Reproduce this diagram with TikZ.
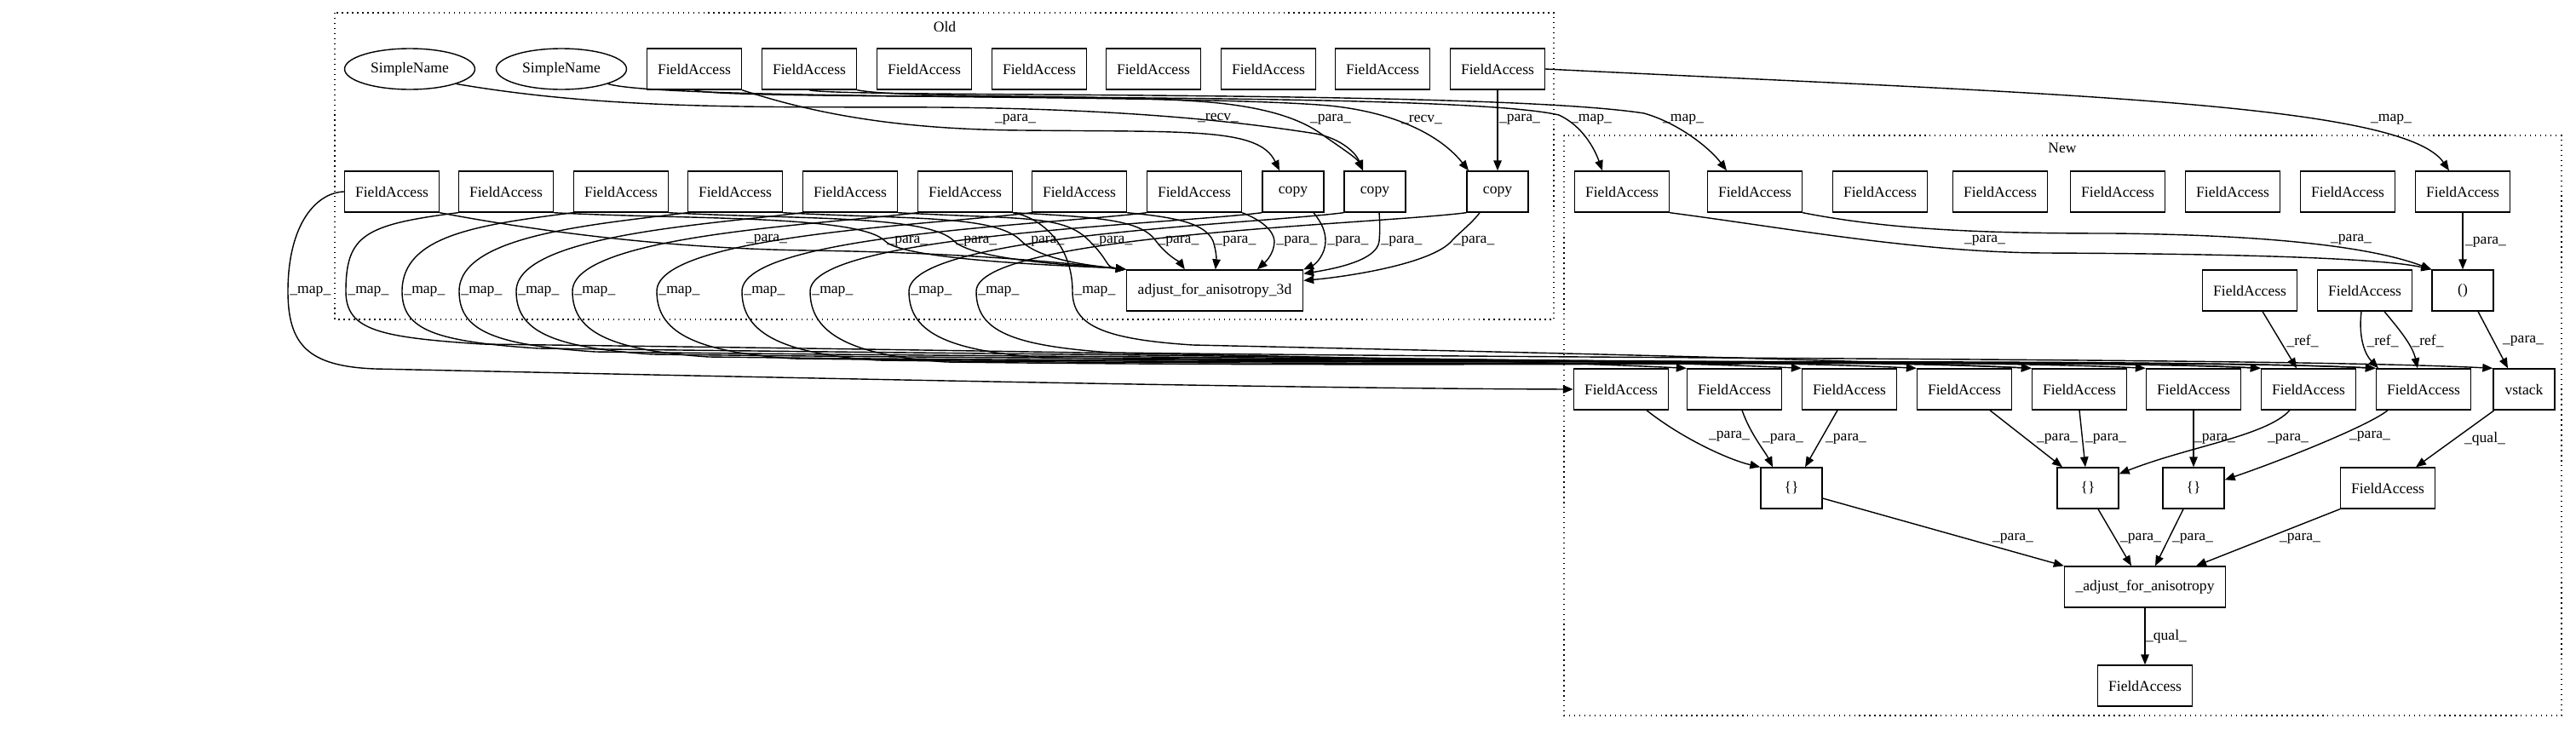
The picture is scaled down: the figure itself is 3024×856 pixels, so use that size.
\documentclass[tikz,border=0pt]{standalone}
\usepackage{fontspec}
\setmainfont{Liberation Serif}
\usetikzlibrary{arrows.meta,shapes.geometric,calc}

\begin{document}
\begin{tikzpicture}[x=0.02cm,y=-0.02cm,
    box/.style={draw,line width=0.8pt,minimum width=2.22cm,minimum height=0.96cm,inner sep=0pt,font=\fontsize{10}{12}\selectfont},
    sbox/.style={box,minimum width=1.44cm},
    oval/.style={box,ellipse,minimum width=3.06cm},
    elab/.style={inner sep=1pt,font=\fontsize{10}{12}\selectfont},
    conn/.style={-{Triangle[length=0.24cm,width=0.19cm]},line width=0.8pt},
    cluster/.style={line width=0.8pt,dash pattern=on 0.8pt off 2.6pt}]
\useasboundingbox (0,0) rectangle (3024,856);

% clusters
\draw[cluster] (393,15) rectangle (1824,375);
\draw[cluster] (1836,159) rectangle (3007,840);
\node[elab] (oldlbl) at (1109,31) {Old};
\node[elab] (newlbl) at (2421,174) {New};

% old, top row
\node[oval] (sn1) at (481,81) {SimpleName};
\node[oval] (sn2) at (659,81) {SimpleName};
\node[box] (oa1) at (815,81) {FieldAccess};
\node[box] (oa2) at (950,81) {FieldAccess};
\node[box] (oa3) at (1085,81) {FieldAccess};
\node[box] (oa4) at (1220,81) {FieldAccess};
\node[box] (oa5) at (1354,81) {FieldAccess};
\node[box] (oa6) at (1489,81) {FieldAccess};
\node[box] (oa7) at (1623,81) {FieldAccess};
\node[box] (oa8) at (1758,81) {FieldAccess};

% old, second row
\node[box] (ob1) at (460,225) {FieldAccess};
\node[box] (ob2) at (594,225) {FieldAccess};
\node[box] (ob3) at (729,225) {FieldAccess};
\node[box] (ob4) at (863,225) {FieldAccess};
\node[box] (ob5) at (998,225) {FieldAccess};
\node[box] (ob6) at (1133,225) {FieldAccess};
\node[box] (ob7) at (1267,225) {FieldAccess};
\node[box] (ob8) at (1402,225) {FieldAccess};
\node[sbox] (cp1) at (1518,225) {copy};
\node[sbox] (cp2) at (1614,225) {copy};
\node[sbox] (cp3) at (1758,225) {copy};
\node[box,minimum width=4.14cm] (adjold) at (1426,341) {adjust\_for\_anisotropy\_3d};

% new
\node[box] (na1) at (1904,225) {FieldAccess};
\node[box] (na2) at (2060,225) {FieldAccess};
\node[box] (na3) at (2207,225) {FieldAccess};
\node[box] (na4) at (2348,225) {FieldAccess};
\node[box] (na5) at (2486,225) {FieldAccess};
\node[box] (na6) at (2621,225) {FieldAccess};
\node[box] (na7) at (2756,225) {FieldAccess};
\node[box] (na8) at (2891,225) {FieldAccess};
\node[box] (nb1) at (2641,341) {FieldAccess};
\node[box] (nb2) at (2776,341) {FieldAccess};
\node[sbox] (tup) at (2891,341) {()};
\node[box] (nc1) at (1903,457) {FieldAccess};
\node[box] (nc2) at (2036,457) {FieldAccess};
\node[box] (nc3) at (2171,457) {FieldAccess};
\node[box] (nc4) at (2306,457) {FieldAccess};
\node[box] (nc5) at (2441,457) {FieldAccess};
\node[box] (nc6) at (2575,457) {FieldAccess};
\node[box] (nc7) at (2710,457) {FieldAccess};
\node[box] (nc8) at (2845,457) {FieldAccess};
\node[sbox] (vst) at (2963,457) {vstack};
\node[sbox] (br1) at (2103,573) {\{\}};
\node[sbox] (br2) at (2451,573) {\{\}};
\node[sbox] (br3) at (2575,573) {\{\}};
\node[box] (nd) at (2803,573) {FieldAccess};
\node[box,minimum width=3.78cm] (adjnew) at (2518,689) {\_adjust\_for\_anisotropy};
\node[box] (nf) at (2518,805) {FieldAccess};

% old top row to copies and new
\draw[conn] (oa1.south east) .. controls (960,135) and (1060,152) .. (1200,153) .. controls (1400,155) and (1478,150) .. ([xshift=-0.32cm]cp1.north) node[elab] at (1192,140) {\_para\_};
\draw[conn] (oa1.south) .. controls (850,120) and (1700,105) .. (1830,135) .. controls (1858,148) and (1872,175) .. ([xshift=-0.46cm]na1.north) node[elab] at (1868,140) {\_map\_};
\draw[conn] (oa2.south) .. controls (980,115) and (1750,105) .. (1930,133) .. controls (1972,145) and (2008,175) .. ([xshift=-0.66cm]na2.north) node[elab] at (1976,140) {\_map\_};
\draw[conn] (sn1.south east) .. controls (720,130) and (900,125) .. (1100,126) .. controls (1350,128) and (1480,147) .. (1545,157) .. controls (1575,163) and (1592,180) .. ([xshift=-0.28cm]cp2.north) node[elab] at (1430,138) {\_recv\_};
\draw[conn] (oa2.south east) .. controls (1060,116) and (1300,110) .. (1420,120) .. controls (1500,127) and (1535,145) .. (1555,160) .. controls (1578,176) and (1593,186) .. ([xshift=-0.28cm]cp2.north) node[elab] at (1562,140) {\_para\_};
\draw[conn] (sn2.south east) .. controls (780,118) and (1400,110) .. (1560,124) .. controls (1640,132) and (1692,160) .. ([xshift=-0.68cm]cp3.north) node[elab] at (1669,140) {\_recv\_};
\draw[conn] (oa8) -- (cp3) node[elab] at (1784,140) {\_para\_};
\draw[conn] (oa8.east) .. controls (2400,110) and (2820,120) .. ([xshift=-0.32cm]na8.north) node[elab] at (2807,140) {\_map\_};

% old second row to adjust_for_anisotropy_3d
\draw[conn] (ob1.south east) .. controls (650,275) and (800,292) .. (950,294) .. controls (1150,297) and (1260,310) .. (adjold.north west) node[elab] at (900,281) {\_para\_};
\foreach \s/\p in {ob2/1039,ob3/1120,ob4/1199,ob5/1279}
  \draw[conn] (\s.south east) .. controls ($(\s.south east)+(150,8)$) and (\p-30,252) .. (\p,283) node[elab,right] {\_para\_} .. controls (\p+25,308) and ($(adjold.north west)+(-25,-3)$) .. (adjold.north west);
\draw[conn] (ob6.south east) .. controls (1290,255) and (1340,258) .. (1357,283) node[elab,right] {\_para\_} .. controls (1370,300) and (1385,308) .. ([xshift=1.38cm]adjold.north west);
\draw[conn] (ob7.south east) .. controls (1380,255) and (1415,262) .. (1424,283) node[elab,right] {\_para\_} .. controls (1428,295) and (1428,305) .. ([xshift=2.1cm]adjold.north west);
\draw[conn] (ob8.south east) .. controls (1480,258) and (1495,270) .. (1496,283) node[elab,right] {\_para\_} .. controls (1496,298) and (1485,308) .. ([xshift=3.08cm]adjold.north west);
\draw[conn] ([xshift=0.48cm]cp1.south) .. controls (1552,262) and (1556,272) .. (1556,283) node[elab,right] {\_para\_} .. controls (1556,298) and (1545,310) .. (adjold.north east);
\draw[conn] ([xshift=0.1cm]cp2.south) .. controls (1620,262) and (1620,272) .. (1619,283) node[elab,right] {\_para\_} .. controls (1617,305) and (1570,315) .. ([yshift=-0.1cm]adjold.north east);
\draw[conn] ([xshift=-0.42cm]cp3.south) .. controls (1728,262) and (1712,274) .. (1704,283) node[elab,right] {\_para\_} .. controls (1680,310) and (1580,325) .. ([yshift=-0.26cm]adjold.north east);

% old second row mapped to new
\draw[conn] (ob1.west) .. controls (372,226) and (338,262) .. (338,342) node[elab,right] {\_map\_} .. controls (338,405) and (362,430) .. (440,433) .. controls (900,443) and (1500,456) .. (nc1.west);
\foreach \s/\p/\t/\b in {ob2/406/nc2/404,ob3/472/nc3/409,ob4/539/nc4/413,ob5/606/nc5/416,ob6/672/nc6/419,ob7/771/nc7/421,ob8/871/nc8/423,cp1/951/nc7/425,cp2/1067/nc8/420,cp3/1146/vst/414}
  \draw[conn] (\s.south west) .. controls ($(\s.south west)+(-110,14)$) and (\p,276) .. (\p,342) node[elab,right] {\_map\_} .. controls (\p,388) and (\p+40,\b-8) .. (\p+160,\b) .. controls (\p+800,\b+8) and ($(\t.north west)+(-250,-12)$) .. (\t.north west);
\draw[conn] (ob6.south east) .. controls (1225,256) and (1259,290) .. (1259,342) node[elab,right] {\_map\_} .. controls (1259,380) and (1290,398) .. (1400,405) .. controls (1800,414) and (2135,421) .. (nc5.north west);

% new
\draw[conn] (na1.south east) .. controls (2100,268) and (2250,296) .. (2400,297) .. controls (2650,298) and (2800,304) .. (tup.north west) node[elab] at (2330,282) {\_para\_};
\draw[conn] (na2.south east) .. controls (2220,270) and (2330,274) .. (2480,274) .. controls (2680,276) and (2790,292) .. (tup.north west) node[elab] at (2760,281) {\_para\_};
\draw[conn] (na8) -- (tup) node[elab] at (2918,284) {\_para\_};
\draw[conn] ([xshift=0.36cm]tup.south) -- ([xshift=-0.38cm]vst.north) node[elab] at (2962,400) {\_para\_};
\draw[conn] ([xshift=0.3cm]nb1.south) -- ([xshift=-0.28cm]nc7.north) node[elab] at (2703,400) {\_ref\_};
\draw[conn] ([xshift=-0.08cm]nb2.south) .. controls (2768,400) and (2778,418) .. ([xshift=-1.06cm]nc8.north) node[elab] at (2797,400) {\_ref\_};
\draw[conn] ([xshift=0.46cm]nb2.south) .. controls (2815,385) and (2832,405) .. ([xshift=-0.14cm]nc8.north) node[elab] at (2850,400) {\_ref\_};
\draw[conn] ([xshift=0.6cm]nc1.south) .. controls (1975,515) and (2030,540) .. (br1.north west) node[elab] at (2030,512) {\_para\_};
\draw[conn] ([xshift=0.18cm]nc2.south) .. controls (2055,510) and (2072,530) .. ([xshift=-0.44cm]br1.north) node[elab] at (2093,515) {\_para\_};
\draw[conn] ([xshift=-0.28cm]nc3.south) -- ([xshift=0.32cm]br1.north) node[elab] at (2167,515) {\_para\_};
\draw[conn] ([xshift=0.6cm]nc4.south) -- ([xshift=-0.6cm]br2.north) node[elab] at (2415,515) {\_para\_};
\draw[conn] (nc5.south) -- ([xshift=-0.06cm]br2.north) node[elab] at (2472,515) {\_para\_};
\draw[conn] (nc6) -- (br3) node[elab] at (2600,515) {\_para\_};
\draw[conn] ([xshift=-0.44cm]nc7.south) .. controls (2660,512) and (2570,524) .. ([yshift=-0.16cm]br2.north east) node[elab] at (2686,515) {\_para\_};
\draw[conn] ([xshift=-0.84cm]nc8.south) .. controls (2780,500) and (2680,540) .. ([yshift=-0.3cm]br3.north east) node[elab] at (2782,512) {\_para\_};
\draw[conn] ([xshift=-0.7cm]vst.south) -- ([xshift=0.66cm]nd.north) node[elab] at (2917,515) {\_qual\_};
\draw[conn] ([yshift=-0.24cm]br1.east) -- (adjnew.north west) node[elab] at (2363,632) {\_para\_};
\draw[conn] ([xshift=0.24cm]br2.south) -- ([xshift=-0.32cm]adjnew.north) node[elab] at (2513,632) {\_para\_};
\draw[conn] ([xshift=-0.24cm]br3.south) -- ([xshift=0.24cm]adjnew.north) node[elab] at (2574,632) {\_para\_};
\draw[conn] (nd.south west) -- ([xshift=1.2cm]adjnew.north) node[elab] at (2700,632) {\_para\_};
\draw[conn] (adjnew) -- (nf) node[elab] at (2543,747) {\_qual\_};
\end{tikzpicture}
\end{document}
